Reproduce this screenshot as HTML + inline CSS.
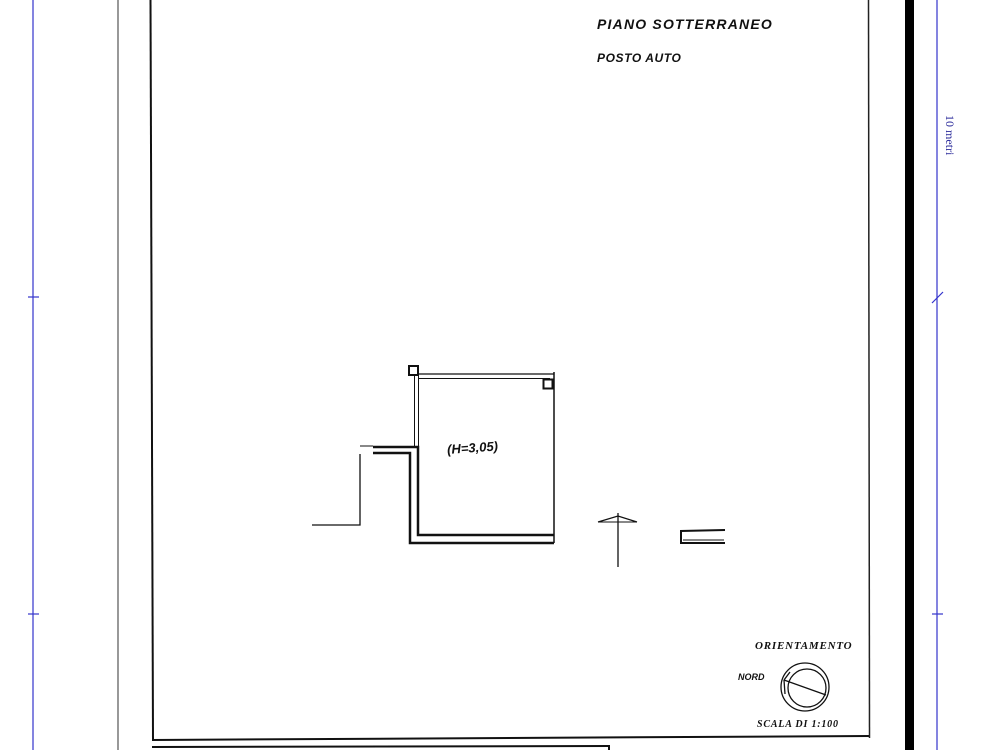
<!DOCTYPE html>
<html><head><style>
html,body{margin:0;padding:0;background:#fff;}
svg{display:block}
</style></head><body>
<svg width="1000" height="750" viewBox="0 0 1000 750" xmlns="http://www.w3.org/2000/svg">
<rect width="1000" height="750" fill="#fff"/>
<g stroke="#3333cc" stroke-width="1.2">
<line x1="33" y1="0" x2="33" y2="750"/>
<line x1="28" y1="297" x2="39" y2="297"/>
<line x1="28" y1="614" x2="39" y2="614"/>
<line x1="937" y1="0" x2="937" y2="750"/>
<line x1="932" y1="303" x2="943" y2="292"/>
<line x1="932" y1="614" x2="943" y2="614"/>
</g>
<text x="0" y="0" transform="translate(946,115) rotate(90)" font-family="Liberation Serif, serif" font-size="12" fill="#2a2a9a">10 metri</text>
<line x1="118" y1="0" x2="118" y2="750" stroke="#555" stroke-width="1.2"/>
<line x1="150.5" y1="0" x2="153" y2="740" stroke="#111" stroke-width="2"/>
<line x1="152" y1="740" x2="870" y2="736" stroke="#111" stroke-width="2"/>
<line x1="868.5" y1="0" x2="869.5" y2="738" stroke="#222" stroke-width="1.5"/>
<rect x="905" y="0" width="9" height="750" fill="#000"/>
<line x1="152" y1="747" x2="610" y2="746" stroke="#111" stroke-width="2"/>
<line x1="609" y1="746" x2="609" y2="750" stroke="#111" stroke-width="2"/>
<text x="597" y="29" font-family="Liberation Sans, sans-serif" font-style="italic" font-weight="bold" font-size="14" letter-spacing="1.2" fill="#111">PIANO  SOTTERRANEO</text>
<text x="597" y="62" font-family="Liberation Sans, sans-serif" font-style="italic" font-weight="bold" font-size="12" letter-spacing="0.6" fill="#111">POSTO  AUTO</text>
<g stroke="#111" fill="none">
<rect x="409" y="366" width="9" height="9" stroke-width="2"/>
<line x1="418" y1="374" x2="554" y2="374" stroke-width="1.3"/>
<line x1="418" y1="378.5" x2="550" y2="378.5" stroke-width="1"/>
<rect x="543.5" y="379.5" width="9" height="9" stroke-width="2"/>
<line x1="554" y1="372" x2="554" y2="543" stroke-width="1.5"/>
<line x1="414.5" y1="375" x2="414.5" y2="446" stroke-width="1"/>
<line x1="418.5" y1="375" x2="418.5" y2="447" stroke-width="1"/>
<polyline points="373,447 418,447 418,535 554,535" stroke-width="2.5"/>
<polyline points="373,453 410,453 410,543 554,543" stroke-width="2.5"/>
<line x1="360" y1="446" x2="373" y2="446" stroke-width="1"/>
<polyline points="360,454 360,525 312,525" stroke-width="1.3"/>
<line x1="618" y1="513" x2="618" y2="567" stroke-width="1.3"/>
<polyline points="598,522 618,516 637,522" stroke-width="1.3"/>
<line x1="598" y1="522" x2="637" y2="522" stroke-width="1"/>
<polyline points="725,530 681,531 681,543 725,543" stroke-width="2"/>
<line x1="683" y1="540" x2="724" y2="540" stroke-width="1"/>
</g>
<text x="447" y="452" font-family="Liberation Sans, sans-serif" font-style="italic" font-weight="bold" font-size="13" fill="#111" transform="rotate(-4 475 447)">(H=3,05)</text>
<text x="755" y="649" font-family="Liberation Serif, serif" font-style="italic" font-weight="bold" font-size="11" letter-spacing="0.8" fill="#111">ORIENTAMENTO</text>
<text x="738" y="680" font-family="Liberation Sans, sans-serif" font-style="italic" font-weight="bold" font-size="9" fill="#111">NORD</text>
<g stroke="#111" fill="none" stroke-width="1.3">
<circle cx="805" cy="687" r="24"/>
<circle cx="807" cy="688" r="19"/>
<line x1="784" y1="680" x2="826" y2="695"/>
<line x1="784" y1="680" x2="790" y2="672"/>
<line x1="784" y1="680" x2="785" y2="694"/>
</g>
<text x="757" y="727" font-family="Liberation Serif, serif" font-style="italic" font-weight="bold" font-size="10" letter-spacing="0.8" fill="#111">SCALA DI 1:100</text>
</svg>
</body></html>
